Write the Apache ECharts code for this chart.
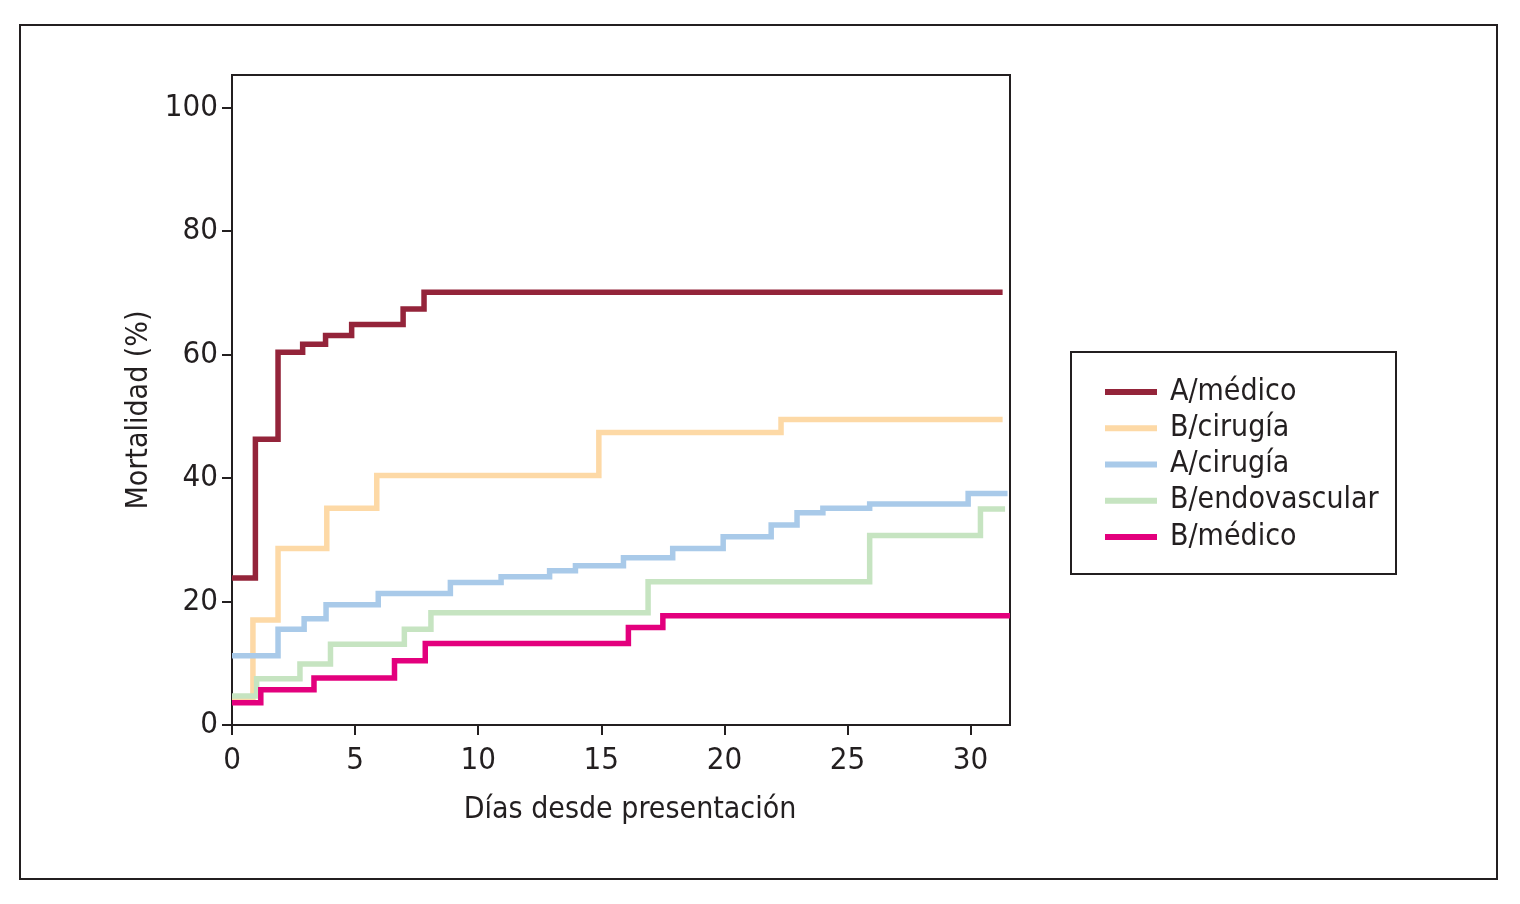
<!DOCTYPE html>
<html>
<head>
<meta charset="utf-8">
<script src="https://cdn.jsdelivr.net/npm/echarts@6/dist/echarts.min.js"></script>
<style>
html,body{margin:0;padding:0;background:#fff;}
#chart{width:1520px;height:904px;}
</style>
</head>
<body>
<div id="chart"></div>
<script>
// Data (days, mortality %)
const seriesNames = ['A/médico', 'B/cirugía', 'A/cirugía', 'B/endovascular', 'B/médico'];
const aMedicoX = [0, 0.95, 1.87, 2.87, 3.8, 4.86, 6.95, 7.8, 31.3];
const aMedicoY = [23.8, 46.3, 60.4, 61.7, 63.1, 64.9, 67.4, 70.1, 70.1];
const bCirugiaX = [0, 0.85, 1.87, 3.85, 5.88, 14.9, 22.3, 31.3];
const bCirugiaY = [4.5, 17.0, 28.6, 35.1, 40.4, 47.4, 49.5, 49.5];
const aCirugiaX = [0, 1.87, 2.93, 3.82, 5.94, 8.87, 10.93, 12.9, 13.95, 15.9, 17.9, 19.95, 21.9, 22.95, 24.0, 25.9, 29.9, 31.5];
const aCirugiaY = [11.2, 15.5, 17.2, 19.5, 21.3, 23.1, 24.0, 25.0, 25.8, 27.1, 28.6, 30.5, 32.4, 34.4, 35.1, 35.8, 37.5, 37.5];
const bEndoX = [0, 1.0, 2.76, 4.0, 7.0, 8.08, 16.9, 25.9, 30.4, 31.4];
const bEndoY = [4.7, 7.5, 9.9, 13.1, 15.5, 18.2, 23.2, 30.7, 35.0, 35.0];
const bMedicoX = [0, 1.17, 3.33, 6.6, 7.85, 16.1, 17.5, 31.6];
const bMedicoY = [3.6, 5.7, 7.6, 10.4, 13.2, 15.8, 17.7, 17.7];
const xTickLabels = ['0', '5', '10', '15', '20', '25', '30'];
const yTickLabels = ['0', '20', '40', '60', '80', '100'];

const colors = ['#94243A', '#FDD9A6', '#A9CAE9', '#C6E4C1', '#E3007D'];
const FONT = "'Liberation Sans Narrow', 'DejaVu Sans Condensed', 'Roboto Condensed', sans-serif";
const INK = '#231F20';

function pairs(xs, ys) { return xs.map((x, i) => [x, ys[i]]); }
const allData = [
  pairs(aMedicoX, aMedicoY),
  pairs(bCirugiaX, bCirugiaY),
  pairs(aCirugiaX, aCirugiaY),
  pairs(bEndoX, bEndoY),
  pairs(bMedicoX, bMedicoY)
];

const chart = echarts.init(document.getElementById('chart'));
chart.setOption({
  animation: false,
  backgroundColor: '#fff',
  grid: { left: 232, top: 75, right: 510, bottom: 179, show: true, borderColor: INK, borderWidth: 2, backgroundColor: 'transparent' },
  xAxis: {
    type: 'value', min: 0, max: 31.6, interval: 5,
    name: 'Días desde presentación', nameLocation: 'middle', nameGap: 70,
    nameTextStyle: { fontFamily: FONT, fontSize: 30, color: INK, padding: [0, 0, 0, 18] },
    axisLine: { show: true, lineStyle: { color: INK, width: 2 } },
    axisTick: { show: true, length: 10, lineStyle: { color: INK, width: 2 } },
    axisLabel: { fontFamily: FONT, fontSize: 31, color: INK, margin: 20, showMaxLabel: false,
      formatter: v => { const s = String(v); return xTickLabels.includes(s) ? s : ''; } },
    splitLine: { show: false }
  },
  yAxis: {
    type: 'value', min: 0, max: 105.3, interval: 20,
    name: 'Mortalidad (%)', nameLocation: 'middle', nameGap: 66,
    nameTextStyle: { fontFamily: FONT, fontSize: 30, color: INK, padding: [0, 20, 0, 0] },
    axisLine: { show: true, lineStyle: { color: INK, width: 2 } },
    axisTick: { show: true, length: 10, lineStyle: { color: INK, width: 2 } },
    axisLabel: { fontFamily: FONT, fontSize: 31, color: INK, margin: 14, showMaxLabel: false,
      formatter: v => { const s = String(v); return yTickLabels.includes(s) ? s : ''; } },
    splitLine: { show: false }
  },
  legend: {
    orient: 'vertical', left: 1100, top: 369,
    itemWidth: 52, itemHeight: 6, itemGap: 0, icon: 'rect',
    textStyle: { fontFamily: FONT, fontSize: 30, color: INK, lineHeight: 36.2, padding: [0, 0, 0, 8] },
    data: seriesNames
  },
  graphic: [
    { type: 'rect', shape: { x: 20, y: 25, width: 1477, height: 854 }, style: { fill: 'none', stroke: INK, lineWidth: 2 }, silent: true },
    { type: 'rect', shape: { x: 1071, y: 352, width: 325, height: 222 }, style: { fill: 'none', stroke: INK, lineWidth: 2 }, silent: true }
  ],
  series: allData.map((d, i) => ({
    name: seriesNames[i], type: 'line', step: 'end', data: d,
    showSymbol: false, symbol: 'none', clip: true,
    lineStyle: { color: colors[i], width: 5.5, cap: 'butt', join: 'miter' },
    itemStyle: { color: colors[i] },
    z: 2 + i
  }))
});
</script>
</body>
</html>
